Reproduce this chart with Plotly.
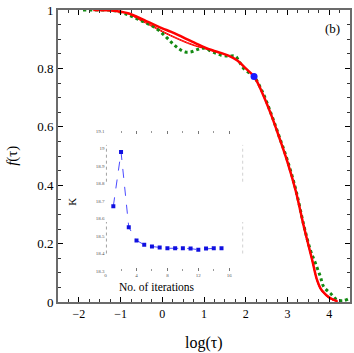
import plotly.graph_objects as go

# main panel: fitted curves (red) and measured curve (green dotted)
fit_x = [-1.65, -1.3, -1.0, -0.8, -0.6, -0.4, -0.2, 0.0, 0.2, 0.4, 0.6, 0.8, 1.0,
         1.2, 1.4, 1.6, 1.8, 2.0, 2.2, 2.4, 2.6, 2.8, 3.0, 3.2, 3.4, 3.6, 3.7,
         3.8, 3.9, 4.0, 4.1, 4.2]
fit_main = [1.0, 0.999, 0.994, 0.988, 0.976, 0.963, 0.950, 0.937, 0.926, 0.913,
            0.899, 0.886, 0.873, 0.862, 0.853, 0.843, 0.827, 0.800, 0.772, 0.715,
            0.645, 0.565, 0.480, 0.380, 0.255, 0.140, 0.080, 0.045, 0.028, 0.016,
            0.008, 0.003]
fit_b = [1.0, 0.999, 0.994, 0.987, 0.972, 0.958, 0.943, 0.928, 0.914, 0.901,
         0.889, 0.878, 0.869, 0.861, 0.853, 0.843, 0.827, 0.800, 0.772, 0.715,
         0.645, 0.565, 0.478, 0.378, 0.252, 0.137, 0.077, 0.042, 0.025, 0.013,
         0.006, 0.002]
fit_c = [1.0, 0.999, 0.993, 0.986, 0.970, 0.955, 0.940, 0.925, 0.911, 0.898,
         0.886, 0.876, 0.868, 0.860, 0.852, 0.843, 0.827, 0.800, 0.772, 0.715,
         0.645, 0.565, 0.478, 0.378, 0.252, 0.137, 0.077, 0.042, 0.025, 0.013,
         0.006, 0.002]

exp_x = [-1.9, -1.6, -1.3, -1.1, -0.9, -0.7, -0.5, -0.3, -0.1, 0.1, 0.25, 0.4,
         0.55, 0.7, 0.85, 1.0, 1.2, 1.4, 1.6, 1.75, 1.85, 1.95, 2.1, 2.2, 2.4,
         2.6, 2.8, 3.0, 3.2, 3.4, 3.55, 3.67, 3.79, 3.87, 4.03, 4.19, 4.35, 4.45]
exp_f = [1.0, 1.0, 1.0, 0.996, 0.988, 0.976, 0.963, 0.950, 0.932, 0.906, 0.885,
         0.867, 0.856, 0.857, 0.865, 0.869, 0.857, 0.846, 0.842, 0.842, 0.822,
         0.800, 0.783, 0.772, 0.720, 0.648, 0.568, 0.485, 0.385, 0.258, 0.178,
         0.133, 0.087, 0.052, 0.030, 0.007, 0.005, 0.010]

point_x = [2.2]
point_f = [0.772]

# inset: K versus iteration number
iters = list(range(1, 16))
kappa = [18.67, 18.98, 18.55, 18.475, 18.45, 18.44, 18.435, 18.43, 18.43, 18.43,
         18.428, 18.422, 18.428, 18.43, 18.43]

SERIF = "Liberation Serif"

fig = go.Figure()
fig.add_trace(go.Scatter(x=fit_x, y=fit_c, mode="lines", line=dict(color="#ff0000", width=1, shape="spline")))
fig.add_trace(go.Scatter(x=fit_x, y=fit_b, mode="lines", line=dict(color="#ff0000", width=1, shape="spline")))
fig.add_trace(go.Scatter(x=exp_x, y=exp_f, mode="lines", line=dict(color="#138a13", width=3, dash="dot", shape="spline")))
fig.add_trace(go.Scatter(x=fit_x, y=fit_main, mode="lines", line=dict(color="#ff0000", width=2.5, shape="spline")))
fig.add_trace(go.Scatter(x=point_x, y=point_f, mode="markers", marker=dict(color="#1a1aff", size=7)))

fig.add_trace(go.Scatter(x=iters, y=kappa, mode="lines+markers", xaxis="x2", yaxis="y2",
                         line=dict(color="#4a4aff", width=1, dash="dash"),
                         marker=dict(color="#1010e0", size=4, symbol="square")))

# dotted side lines of the inset frame
for x0 in (0.1, 17.8):
    for y0, y1 in ((18.81, 19.02), (18.40, 18.58)):
        fig.add_shape(type="line", xref="x2", yref="y2", x0=x0, x1=x0, y0=y0, y1=y1,
                      line=dict(color="#999999", width=1, dash="dot"))

def label(text, x, y, size, angle=0):
    fig.add_annotation(text=text, xref="paper", yref="paper", x=x, y=y,
                       xanchor="center", yanchor="middle", textangle=angle,
                       showarrow=False, font=dict(family=SERIF, size=size, color="black"))

label("<i>f</i>(τ)", -0.158, 0.5, 15, -90)
label("log(τ)", 0.5, -0.141, 16)
label("(b)", 0.94, 0.935, 13)
label("K", 0.05, 0.342, 11, -90)
label("No. of iterations", 0.339, 0.051, 11.5)

fig.update_layout(
    template="none",
    width=354, height=353,
    margin=dict(l=58, r=4, t=10, b=51),
    paper_bgcolor="white", plot_bgcolor="white",
    showlegend=False,
    font=dict(family=SERIF, color="black"),
    xaxis=dict(range=[-2.5, 4.5], dtick=1, showgrid=False, zeroline=False, automargin=False,
               showline=True, linecolor="#6b6b6b", linewidth=2, mirror="allticks",
               ticks="inside", ticklen=5, tickwidth=1.2, tickcolor="black",
               minor=dict(dtick=0.25, ticks="inside", ticklen=3, tickcolor="#333333"),
               tickfont=dict(family=SERIF, size=12)),
    yaxis=dict(range=[0, 1], tickvals=[0, 0.2, 0.4, 0.6, 0.8, 1],
               ticktext=["0", "0.2", "0.4", "0.6", "0.8", "1"],
               showgrid=False, zeroline=False, automargin=False,
               showline=True, linecolor="#6b6b6b", linewidth=2, mirror="allticks",
               ticks="inside", ticklen=5, tickwidth=1.2, tickcolor="black",
               minor=dict(dtick=0.05, ticks="inside", ticklen=3, tickcolor="#333333"),
               tickfont=dict(family=SERIF, size=13)),
    xaxis2=dict(domain=[0.163, 0.634], anchor="y2", range=[0, 17.8], automargin=False,
                tickvals=[0, 4, 8, 12, 16], showgrid=False, zeroline=False, showline=False,
                ticks="inside", ticklen=3, tickcolor="#777777", mirror="ticks",
                minor=dict(dtick=2, ticks="inside", ticklen=2, tickcolor="#999999"),
                tickfont=dict(family=SERIF, size=5, color="#555555")),
    yaxis2=dict(domain=[0.106, 0.586], anchor="x2", range=[18.3, 19.1], automargin=False,
                tickvals=[18.3, 18.4, 18.5, 18.6, 18.7, 18.8, 18.9, 19.0, 19.1],
                ticktext=["18.3", "18.4", "18.5", "18.6", "18.7", "18.8", "18.9", "19", "19.1"],
                showgrid=False, zeroline=False, showline=False, ticks="",
                tickfont=dict(family=SERIF, size=5, color="#555555")),
)

fig.write_html("out.html", config={"displayModeBar": False},
               post_script="document.body.style.margin = '0';")
